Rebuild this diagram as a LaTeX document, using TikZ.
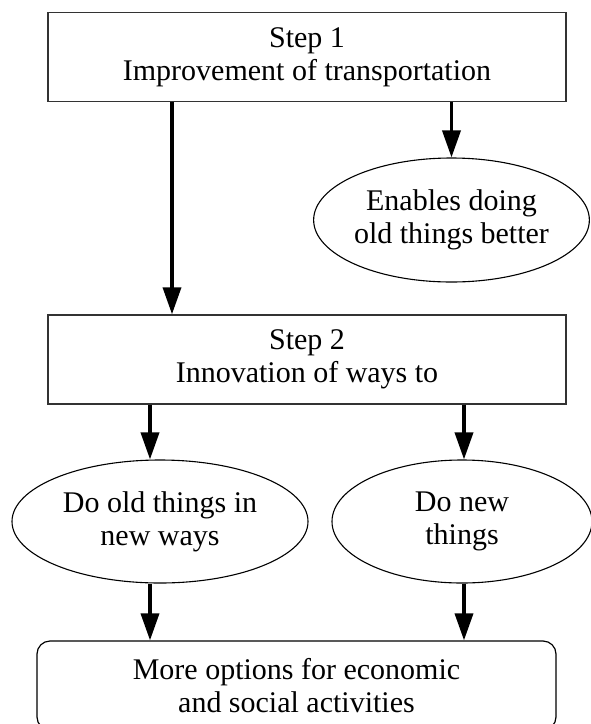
\documentclass[tikz,border=0pt]{standalone}
\usepackage{fontspec}
\setmainfont{Liberation Serif}
\usetikzlibrary{arrows.meta,shapes.geometric}
\begin{document}
\begin{tikzpicture}[x=1pt,y=-1pt,
  font=\fontsize{30}{33}\selectfont,
  stepbox/.style={draw=black!80, line width=1.4pt, minimum width=518pt,
    minimum height=89pt, align=center, inner sep=0pt},
  resultbox/.style={draw=black, line width=1.2pt, rounded corners=13pt,
    minimum width=519pt, minimum height=89pt, align=center, inner sep=0pt},
  oval/.style={ellipse, draw=black, line width=1.1pt, align=center, inner sep=0pt},
  flow/.style={line width=3.6pt, -{Triangle[length=27pt,width=18pt]}}]
\useasboundingbox (0,0) rectangle (590,724);

% boxes and ovals
\node[stepbox] (s1) at (307,57) {Step 1\\Improvement of transportation};
\node[oval, minimum width=273pt, minimum height=124pt] (e1) at (451.5,220)
  {Enables doing\\old things better};
\node[stepbox] (s2) at (307,359.5) {Step 2\\Innovation of ways to};
\node[oval, minimum width=296pt, minimum height=123pt] (e2l) at (160,521.5)
  {Do old things in\\new ways};
\node[oval, minimum width=260pt, minimum height=123pt] (e2r) at (462,521.5)
  {Do new\\things};
\node[resultbox] (fin) at (296.5,685.5)
  {More options for economic\\and social activities};

% arrow columns
\coordinate (ca) at (172,0);
\coordinate (cl) at (150,0);
\coordinate (cr) at (464,0);

% connectors
\draw[flow] (s1.south -| ca) -- (s2.north -| ca);
\draw[flow] (s1.south -| e1.north) -- (e1.north);
\draw[flow] (s2.south -| cl) -- (cl |- e2l.north);
\draw[flow] (s2.south -| cr) -- (cr |- e2r.north);
\draw[flow] (cl |- e2l.south) -- (cl |- fin.north);
\draw[flow] (cr |- e2r.south) -- (cr |- fin.north);
\end{tikzpicture}
\end{document}
